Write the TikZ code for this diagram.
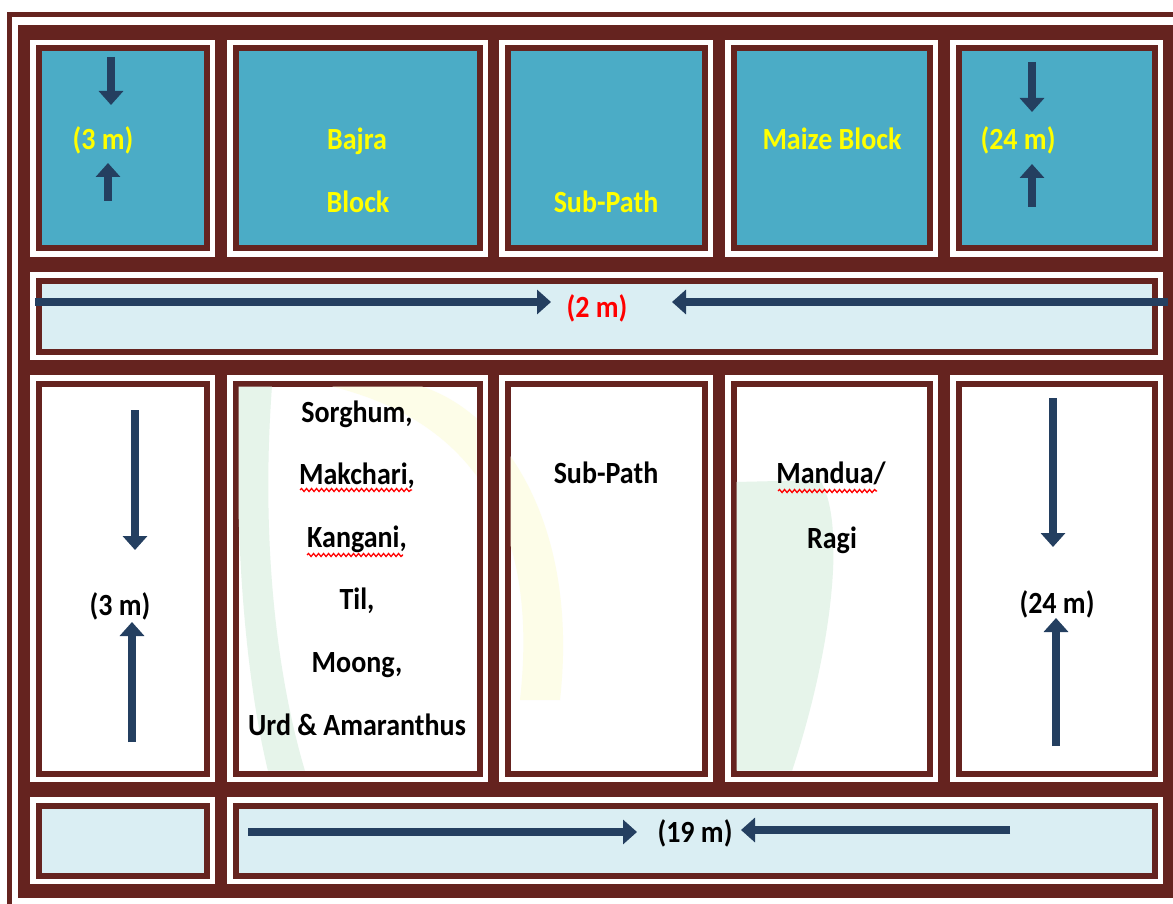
\documentclass[tikz,border=0pt]{standalone}
\usepackage{fontspec}
\setmainfont{Carlito}
\usetikzlibrary{arrows.meta,decorations.pathmorphing}
\definecolor{brd}{HTML}{65231F}
\definecolor{tealfill}{HTML}{4BACC6}
\definecolor{palefill}{HTML}{DAEEF3}
\definecolor{navy}{HTML}{243F60}
\definecolor{ylw}{HTML}{FFFF00}
\definecolor{wmgreen}{HTML}{E6F4EA}
\definecolor{wmyellow}{HTML}{FDFDE8}
\newcommand\plotcell[5]{%
  \fill[white] (#1,#2) rectangle (#3,#4);
  \fill[brd] (#1+5.5,#2+5.5) rectangle (#3-5.5,#4-5.5);
  \fill[#5] (#1+11.5,#2+11.5) rectangle (#3-11.5,#4-11.5);
}
\newcommand\tallt[1]{\scalebox{1}[1.1]{#1}}
\tikzset{
  lbl/.style={font=\bfseries\fontsize{28}{30}\selectfont, anchor=base, inner sep=0pt},
  ylbl/.style={lbl, text=ylw},
  arr/.style={draw=navy, line width=8.5pt, -{Triangle[width=24pt,length=14pt]}},
  squig/.style={draw=red, line width=1.3pt, decorate, decoration={snake, segment length=5pt, amplitude=1.5pt}}
}
\begin{document}
\begin{tikzpicture}[x=1pt,y=-1pt]
\useasboundingbox (0,0) rectangle (1173,904);
\begin{scope}
\clip (0,0) rectangle (1173,904);
\fill[white] (0,0) rectangle (1173,904);
\draw[brd, line width=5pt] (9.5,14.5) rectangle (1200,930);
\fill[brd] (18,25) rectangle (1190,898);
% row 1
\plotcell{30}{40}{215}{257}{tealfill}
\plotcell{227}{40}{488}{257}{tealfill}
\plotcell{499}{40}{713}{257}{tealfill}
\plotcell{725}{40}{938}{257}{tealfill}
\plotcell{950}{40}{1163}{257}{tealfill}
% row 2
\plotcell{30}{272}{1163}{360}{palefill}
% row 3
\plotcell{30}{375}{215}{782}{white}
\plotcell{227}{375}{488}{782}{white}
\plotcell{499}{375}{713}{782}{white}
\plotcell{725}{375}{938}{782}{white}
\plotcell{950}{375}{1163}{782}{white}
% row 4
\plotcell{30}{797}{215}{884}{palefill}
\plotcell{227}{797}{1163}{884}{palefill}

% faint watermark in the white cells
\begin{scope}
\clip (238.5,386.5) rectangle (476.5,770.5)
      (510.5,386.5) rectangle (701.5,770.5)
      (736.5,386.5) rectangle (926.5,770.5);
\fill[wmgreen] (238,386) -- (272,386) .. controls (262,520) and (272,660) .. (305,771)
   -- (268,771) .. controls (246,680) and (238,560) .. (238,470) -- cycle;
\fill[wmyellow] (330,386) .. controls (470,420) and (540,520) .. (520,700)
   -- (560,700) .. controls (580,520) and (500,410) .. (420,386) -- cycle;
\fill[wmgreen] (736,482) -- (820,480) .. controls (845,520) and (835,640) .. (792,771)
   -- (736,771) -- cycle;
\end{scope}

% row 1 arrows
\coordinate (r1a) at (111,57);  \coordinate (r1b) at (111,105);
\coordinate (r1c) at (108,201); \coordinate (r1d) at (108,163);
\coordinate (r1e) at (1032,62); \coordinate (r1f) at (1032,112);
\coordinate (r1g) at (1032,207);\coordinate (r1h) at (1032,164);
\draw[arr] (r1a) -- (r1b);
\draw[arr] (r1c) -- (r1d);
\draw[arr] (r1e) -- (r1f);
\draw[arr] (r1g) -- (r1h);
% row 2 arrows
\coordinate (r2a) at (35,302);   \coordinate (r2b) at (551,302);
\coordinate (r2c) at (1168,302); \coordinate (r2d) at (672,302);
\draw[arr] (r2a) -- (r2b);
\draw[arr] (r2c) -- (r2d);
% row 3 arrows
\coordinate (r3a) at (135,410);  \coordinate (r3b) at (135,550);
\coordinate (r3c) at (132,742);  \coordinate (r3d) at (132,622);
\coordinate (r3e) at (1053,398); \coordinate (r3f) at (1053,547);
\coordinate (r3g) at (1056,746); \coordinate (r3h) at (1056,618);
\draw[arr] (r3a) -- (r3b);
\draw[arr] (r3c) -- (r3d);
\draw[arr] (r3e) -- (r3f);
\draw[arr] (r3g) -- (r3h);
% row 4 arrows
\coordinate (r4a) at (248,832);  \coordinate (r4b) at (637,832);
\coordinate (r4c) at (1010,830); \coordinate (r4d) at (741,830);
\draw[arr] (r4a) -- (r4b);
\draw[arr] (r4c) -- (r4d);

% row 1 labels
\node[ylbl] (t1) at (103,150) {\tallt{(3 m)}};
\node[ylbl] (t2) at (357,150) {\tallt{Bajra}};
\node[ylbl] (t3) at (358,213) {\tallt{Block}};
\node[ylbl] (t4) at (606,213) {\tallt{Sub-Path}};
\node[ylbl] (t5) at (832,150) {\tallt{Maize Block}};
\node[ylbl] (t6) at (1018,150) {\tallt{(24 m)}};
% row 2 label
\node[lbl, text=red] (t7) at (597,317) {\tallt{(2 m)}};
% row 3 labels
\node[lbl] (t8) at (120,615) {\tallt{(3 m)}};
\node[lbl] (c1) at (357,422) {\tallt{Sorghum,}};
\node[lbl] (c2) at (357,484.6) {\tallt{Makchari,}};
\node[lbl] (c3) at (357,547.2) {\tallt{Kangani,}};
\node[lbl] (c4) at (357,609.8) {\tallt{Til,}};
\node[lbl] (c5) at (357,672.4) {\tallt{Moong,}};
\node[lbl] (c6) at (357,735) {\tallt{Urd \& Amaranthus}};
\node[lbl] (t9) at (606,483) {\tallt{Sub-Path}};
\node[lbl] (t10) at (831,483) {\tallt{Mandua/}};
\node[lbl] (t11) at (832,548) {\tallt{Ragi}};
\node[lbl] (t12) at (1057,613) {\tallt{(24 m)}};
% row 4 label
\node[lbl] (t13) at (695,842) {\tallt{(19 m)}};
% spell-check underlines
\draw[squig] (300,490) -- (412,490);
\draw[squig] (307,555) -- (403,555);
\draw[squig] (778,491) -- (877,491);
\end{scope}
\end{tikzpicture}
\end{document}
